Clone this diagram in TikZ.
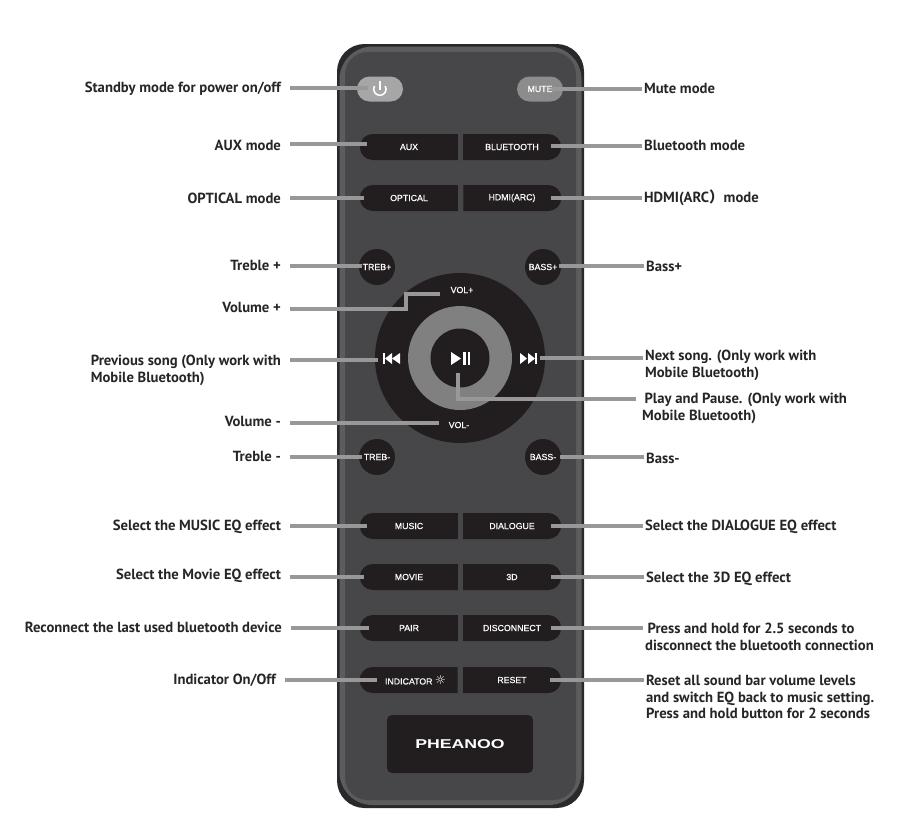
\documentclass[tikz,border=0pt]{standalone}
\usepackage{fontspec}
\setmainfont{PT Sans}
\setsansfont[FakeBold=0.5]{Liberation Sans}
\newfontfamily\cjkfont{Noto Sans CJK SC}
\newfontfamily\symfont{DejaVu Sans}
\newfontfamily\logofont[FakeStretch=1.38]{Liberation Sans}
\usetikzlibrary{shapes.misc,positioning,calc}
\definecolor{shellrim}{HTML}{29282A}
\definecolor{shellband}{HTML}{5C5B5D}
\definecolor{shellface}{HTML}{474648}
\definecolor{keyblack}{HTML}{221E20}
\definecolor{ringgray}{HTML}{808080}
\definecolor{bargray}{HTML}{989898}

\begin{document}
\begin{tikzpicture}[
  x=0.02cm, y=-0.02cm,
  key/.style    = {inner sep=0pt, text=white, fill=keyblack,
                   font=\sffamily\fontsize{5}{6}\selectfont},
  keyl/.style   = {key, rounded rectangle, rounded rectangle east arc=none,
                   minimum width=1.96cm, minimum height=0.52cm},
  keyr/.style   = {key, rounded rectangle, rounded rectangle west arc=none,
                   minimum width=1.96cm, minimum height=0.52cm},
  pill/.style   = {key, rounded rectangle, minimum width=0.92cm, minimum height=0.5cm},
  round/.style  = {key, circle, minimum size=0.72cm},
  disc/.style   = {circle, inner sep=0pt},
  lbll/.style   = {anchor=east, align=left, inner xsep=5pt, inner ysep=0pt,
                   font=\bfseries\fontsize{8.35}{9.6}\selectfont, text=black!85},
  lblr/.style   = {anchor=west, align=left, inner xsep=1pt, inner ysep=0pt,
                   font=\bfseries\fontsize{8.35}{9.6}\selectfont, text=black!85},
  bar/.style    = {draw=bargray, line width=2.3pt},
  glyph/.style  = {fill=white},
]
\useasboundingbox (0,0) rectangle (905,816);
\fill[white] (0,0) rectangle (905,816);

\fill[shellrim, rounded corners=0.55cm]  (337,44) rectangle (584,808);
\fill[shellband, rounded corners=0.66cm] (339.5,46.5) rectangle (581.5,805);
\fill[shellface, rounded corners=0.45cm] (345,52) rectangle (576,800);

\node[pill, fill=black!35]  (power) at (380,89) {};
\node[pill, fill=black!45]  (mute)  at (540,89) {MUTE};
\node[keyl] (aux)       at (409,147) {AUX};
\node[keyr] (bluetooth) at (512,147) {BLUETOOTH};
\node[keyl] (optical)   at (409,198) {OPTICAL};
\node[keyr] (hdmi)      at (512,198) {HDMI(ARC)};
\node[keyl] (music)     at (409,526) {MUSIC};
\node[keyr] (dialogue)  at (512,526) {DIALOGUE};
\node[keyl] (movie)     at (409,577) {MOVIE};
\node[keyr] (threed)    at (512,577) {3D};
\node[keyl] (pair)      at (409,628) {PAIR};
\node[keyr] (disconn)   at (512,628) {DISCONNECT};
\node[keyl] (indicator) at (409,680) {\hspace*{7.4pt}INDICATOR {\symfont\fontsize{7}{6}\selectfont ☼}};
\node[keyr] (reset)     at (512,680) {RESET};

\node[round] (trebup) at (377,267) {TREB+};
\node[round] (bassup) at (543,267) {BASS+};
\node[round] (trebdn) at (377,457) {TREB-};
\node[round] (bassdn) at (543,457) {BASS-};

\node[disc, fill=keyblack, minimum size=3.4cm]  (wheel) at (460,358) {};
\node[disc, fill=ringgray, minimum size=2.08cm] (ring)  at (460,358) {};
\node[disc, fill=keyblack, minimum size=1.18cm] (play)  at (460,358) {};
\node[key, fill=none] (volup) at (462,290) {VOL+};
\node[key, fill=none] (voldn) at (459,425) {VOL-};

\node[fill=keyblack, rounded corners=0.1cm, minimum width=2.92cm, minimum height=1.16cm,
      text=white, font=\logofont\bfseries\fontsize{7.3}{8}\selectfont] (logo) at (460,744) {PHEANOO};

\draw[white, line width=0.9pt] (374.5,86) arc[start angle=210, end angle=-30, radius=6.2];
\draw[white, line width=0.9pt] (380,81) -- (380,90);
\fill[glyph] (383,353) rectangle (385,364);
\fill[glyph] (392,353) -- (392,364) -- (385,358.5) -- cycle;
\fill[glyph] (400,353) -- (400,364) -- (392,358.5) -- cycle;
\fill[glyph] (520,353) -- (520,364) -- (527,358.5) -- cycle;
\fill[glyph] (528,353) -- (528,364) -- (535,358.5) -- cycle;
\fill[glyph] (535,353) rectangle (537,364);
\fill[glyph] (451,352) -- (451,365) -- (461,358.5) -- cycle;
\fill[glyph] (463,352) rectangle (466,365);
\fill[glyph] (467.5,352) rectangle (470,365);

\node[lbll] (lstandby) at (290,89)  {Standby mode for power on/off};
\node[lbll] (laux)     at (290,145) {AUX mode};
\node[lbll] (lopt)     at (290,198) {OPTICAL mode};
\node[lbll] (ltrebup)  at (290,265) {Treble +};
\node[lbll] (lvolup)   at (290,307) {Volume +};
\node[lbll] (lprev)    at (290,370) {Previous song (Only work with\\ Mobile Bluetooth)};
\node[lbll] (lvoldn)   at (290,421) {Volume -};
\node[lbll] (ltrebdn)  at (290,456) {Treble -};
\node[lbll] (lmusic)   at (290,527) {Select the MUSIC EQ effect};
\node[lbll] (lmovie)   at (290,576) {Select the Movie EQ effect};
\node[lbll] (lpair)    at (291,627) {Reconnect the last used bluetooth device};
\node[lbll] (lind)     at (285,680) {Indicator On/Off};

\node[lblr] (lmute)   at (642,88)  {Mute mode};
\node[lblr] (lblue)   at (642,145) {Bluetooth mode};
\node[lblr] (lhdmi)   at (642,198) {HDMI(ARC{\cjkfont ）}mode};
\node[lblr] (lbassup) at (644,266) {Bass+};
\node[lblr] (lnext)   at (643,365) {Next song. (Only work with\\Mobile Bluetooth)};
\node[lblr, inner xsep=3.3pt] (lplay) at (636,408) {\,Play and Pause. (Only work with\\Mobile Bluetooth)};
\node[lblr] (lbassdn) at (644,458) {Bass-};
\node[lblr] (ldial)   at (643,527) {Select the DIALOGUE EQ effect};
\node[lblr] (l3d)     at (644,579) {Select the 3D EQ effect};
\node[lblr] (ldisc)   at (643,637) {\,Press and hold for 2.5 seconds to\\disconnect the bluetooth connection};
\node[lblr] (lreset)  at (644,697) {Reset all sound bar volume levels\\and switch EQ back to music setting.\\Press and hold button for 2 seconds};

\coordinate (epower)  at (368,88);
\coordinate (emute)   at (552,89);
\coordinate (eaux)    at (367,144);
\coordinate (eblue)   at (551,146);
\coordinate (eopt)    at (364,198);
\coordinate (ehdmi)   at (551,198);
\coordinate (etrebup) at (362,266);
\coordinate (ebassup) at (559,266);
\coordinate (evolup)  at (440,294);
\coordinate (eprev)   at (378,360);
\coordinate (enext)   at (540,358);
\coordinate (eplay)   at (458,373);
\coordinate (evoldn)  at (439,423);
\coordinate (etrebdn) at (362,457);
\coordinate (ebassdn) at (560,457);
\coordinate (emusic)  at (367,526);
\coordinate (edial)   at (551,526);
\coordinate (emovie)  at (364,577);
\coordinate (e3d)     at (551,577);
\coordinate (epair)   at (369,628);
\coordinate (edisc)   at (551,628);
\coordinate (eind)    at (377,680);
\coordinate (ereset)  at (550,680);

\draw[bar] (lstandby.east |- epower) -- (epower);
\draw[bar] (lmute.west |- emute)     -- (emute);
\draw[bar] (laux.east |- eaux)       -- (eaux);
\draw[bar] (lblue.west |- eblue)     -- (eblue);
\draw[bar] (lopt.east |- eopt)       -- (eopt);
\draw[bar] (lhdmi.west |- ehdmi)     -- (ehdmi);
\draw[bar] (ltrebup.east |- etrebup) -- (etrebup);
\draw[bar] (lbassup.west |- ebassup) -- (ebassup);
\draw[bar] (lvolup.east |- 0,309)    -- (406,309) -- (406,294) -- (evolup);
\draw[bar] (lprev.east |- eprev)     -- (eprev);
\draw[bar] (lnext.west |- enext)     -- (enext);
\draw[bar] (lplay.west |- 0,399)     -- (eplay |- 0,399) -- (eplay);
\draw[bar] (lvoldn.east |- evoldn)   -- (evoldn);
\draw[bar] (ltrebdn.east |- etrebdn) -- (etrebdn);
\draw[bar] (lbassdn.west |- ebassdn) -- (ebassdn);
\draw[bar] (lmusic.east |- emusic)   -- (emusic);
\draw[bar] (ldial.west |- edial)     -- (edial);
\draw[bar] (lmovie.east |- emovie)   -- (emovie);
\draw[bar] (l3d.west |- e3d)         -- (e3d);
\draw[bar] (lpair.east |- epair)     -- (epair);
\draw[bar] (ldisc.west |- edisc)     -- (edisc);
\draw[bar] (lind.east |- eind)       -- (eind);
\draw[bar] (lreset.west |- ereset)   -- (ereset);
\end{tikzpicture}
\end{document}
